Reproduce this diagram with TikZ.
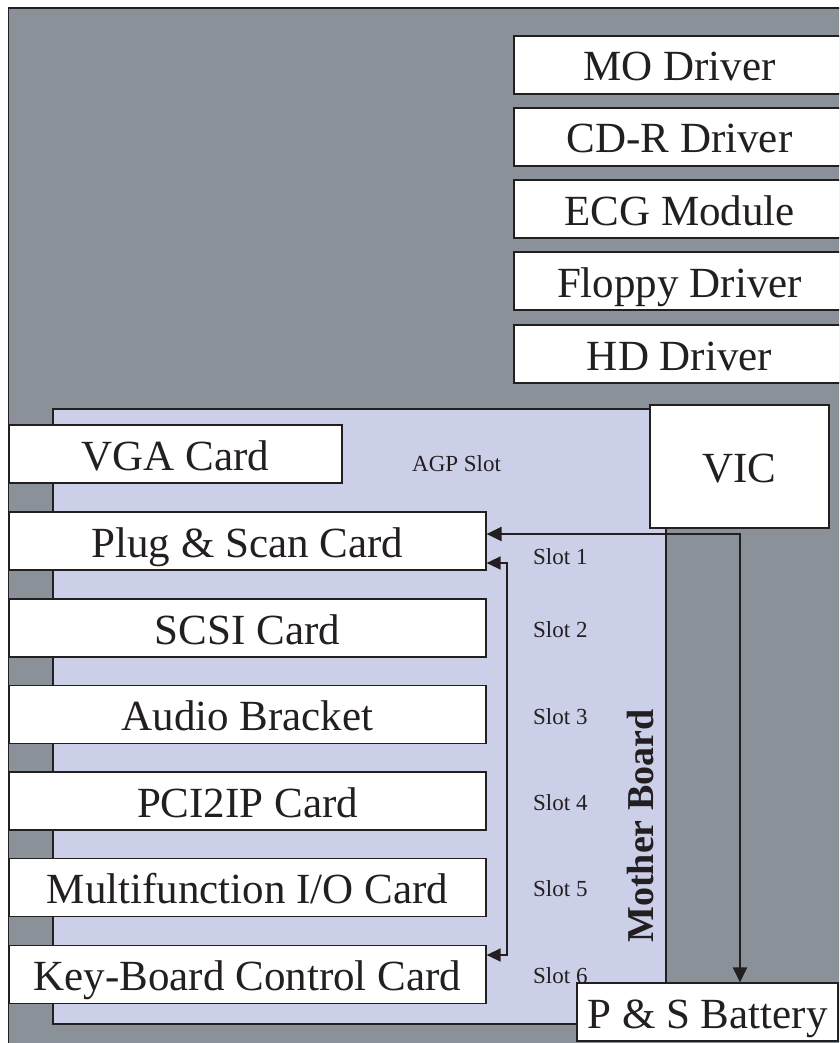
\documentclass[tikz,border=0pt]{standalone}
\usepackage{fontspec}
\setmainfont{Liberation Serif}
\usetikzlibrary{arrows.meta,calc}
\definecolor{casegray}{RGB}{139,145,153}
\definecolor{boardblue}{RGB}{203,207,232}
\definecolor{linec}{RGB}{35,31,32}
\tikzset{
  box/.style={draw=linec, fill=white, line width=1.2pt, inner sep=0pt,
    text height=32pt, text depth=0pt,
    font=\fontsize{43}{50}\selectfont, text=linec},
  slotlbl/.style={anchor=west, inner sep=0pt, font=\fontsize{23}{26}\selectfont, text=linec},
  bigarrow/.style={draw=linec, line width=2.2pt, {Triangle[length=15pt,width=14pt]}-{Triangle[length=15pt,width=14pt]}},
  smallarrow/.style={draw=linec, line width=1.4pt, {Triangle[length=14pt,width=13pt]}-{Triangle[length=14pt,width=13pt]}}
}
\begin{document}
\begin{tikzpicture}[x=1pt,y=-1pt]
\useasboundingbox (0,0) rectangle (839,1043);
\clip (0,0) rectangle (839,1043);
% case
\fill[casegray, draw=linec, line width=1.2pt] (8.5,8) rectangle (860,1060);
% drivers
\node[box, minimum width=331pt, minimum height=58pt] (mo) at (679.5,65) {MO Driver};
\node[box, minimum width=331pt, minimum height=58pt] (cdr) at (679.5,137) {CD-R Driver};
\node[box, minimum width=331pt, minimum height=58pt] (ecg) at (679.5,209) {ECG Module};
\node[box, minimum width=331pt, minimum height=58pt] (floppy) at (679.5,281) {Floppy Driver};
\node[box, minimum width=331pt, minimum height=58pt] (hd) at (679.5,354) {HD Driver};
% mother board
\fill[boardblue, draw=linec, line width=1.2pt] (53,409) rectangle (666,1024);
\node[anchor=base, rotate=90, inner sep=0pt, font=\bfseries\fontsize{38}{44}\selectfont, text=linec] (mb) at (653,826) {Mother Board};
% VIC and battery
\node[box, minimum width=179pt, minimum height=123pt] (vic) at (739.5,466.5) {VIC};
\node[box, minimum width=261pt, minimum height=58pt] (bat) at (707.5,1012) {P \& S Battery};
% cards
\node[box, minimum width=333pt, minimum height=58pt] (vga) at (175.5,454) {VGA Card};
\node[box, minimum width=477pt, minimum height=58pt] (ps) at (247.5,541) {Plug \& Scan Card};
\node[box, minimum width=477pt, minimum height=58pt] (scsi) at (247.5,628) {SCSI Card};
\node[box, minimum width=477pt, minimum height=58pt] (audio) at (247.5,714.5) {Audio Bracket};
\node[box, minimum width=477pt, minimum height=58pt] (pci) at (247.5,801) {PCI2IP Card};
\node[box, minimum width=477pt, minimum height=58pt] (multi) at (247.5,887.5) {Multifunction I/O Card};
\node[box, minimum width=477pt, minimum height=58pt] (kb) at (247.5,974.5) {Key-Board Control Card};
% slot labels
\node[slotlbl] (agp) at (412,464) {AGP Slot};
\node[slotlbl] (s1) at (533,557) {Slot 1};
\node[slotlbl] (s2) at (533,630) {Slot 2};
\node[slotlbl] (s3) at (533,717) {Slot 3};
\node[slotlbl] (s4) at (533,803) {Slot 4};
\node[slotlbl] (s5) at (533,889) {Slot 5};
\node[slotlbl] (s6) at (533,976) {Slot 6};
% connectors
\coordinate (c1) at (740,534);
\coordinate (c2) at (507,563);
\coordinate (c3) at (507,955);
\draw[bigarrow] (bat.north -| c1) |- (ps.east |- c1);
\draw[smallarrow] (ps.east |- c2) -| (c3) -- (kb.east |- c3);
\end{tikzpicture}
\end{document}
